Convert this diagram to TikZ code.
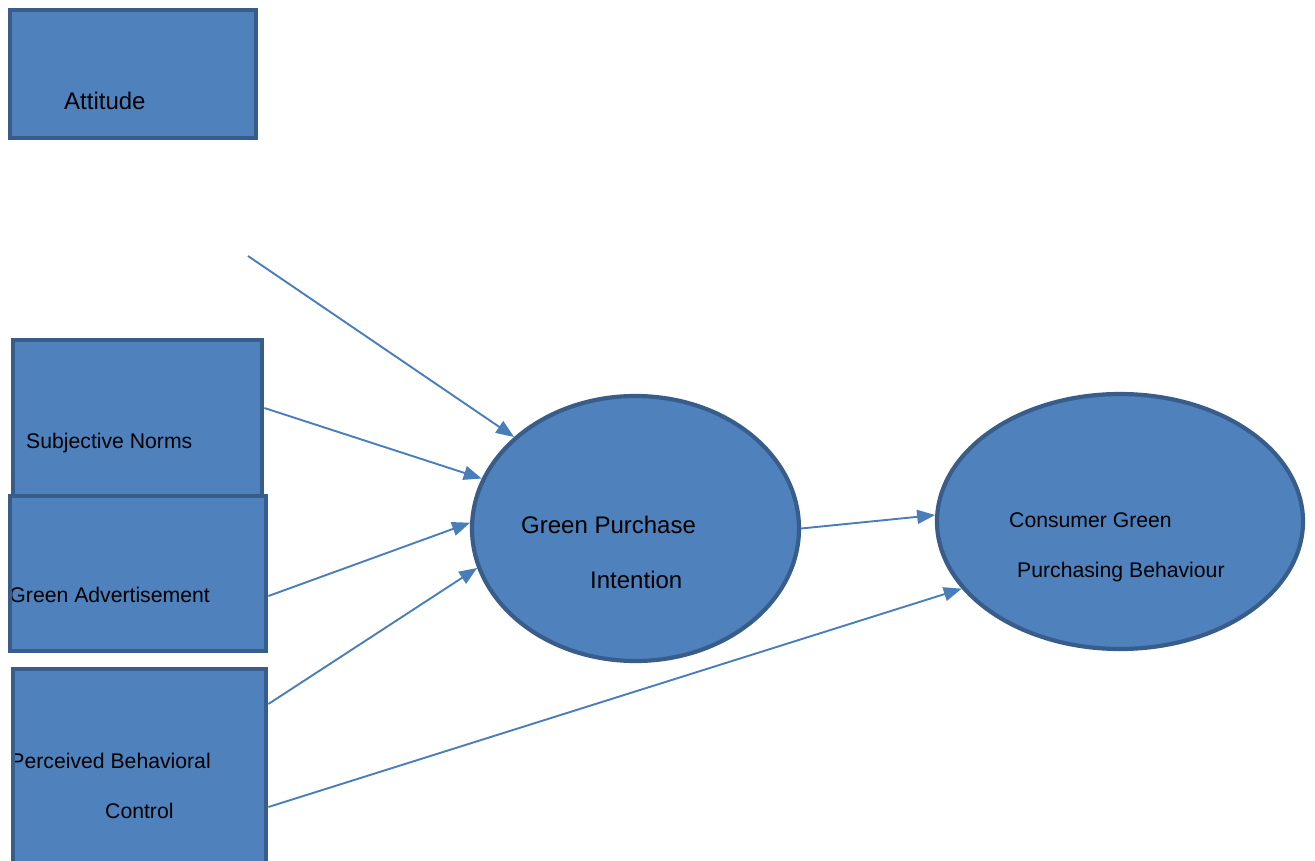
\documentclass[tikz,border=0pt]{standalone}
\usepackage{fontspec}
\setmainfont{Liberation Sans}
\usetikzlibrary{arrows.meta,shapes.geometric}
\definecolor{boxfill}{HTML}{4F81BD}
\definecolor{boxline}{HTML}{385D8A}
\definecolor{arrline}{HTML}{4A7EBB}
\tikzset{
  box/.style={rectangle, draw=boxline, fill=boxfill, line width=4.8pt, inner sep=0pt},
  oval/.style={ellipse, draw=boxline, fill=boxfill, line width=4.2pt, inner sep=0pt},
  arr/.style={draw=arrline, line width=1.9pt, -{Triangle[length=18pt,width=14pt]}},
  big/.style={font=\fontsize{24}{28}\selectfont, inner sep=0pt, text=black},
  small/.style={font=\fontsize{21.2}{25}\selectfont, inner sep=0pt, text=black},
}
\begin{document}
\begin{tikzpicture}[x=1pt,y=-1pt]
\useasboundingbox (0,0) rectangle (1315,861);
% boxes
\node[box, minimum width=246pt, minimum height=128pt] (att) at (133,74) {};
\node[box, minimum width=249pt, minimum height=156pt] (sn) at (137.5,418) {};
\node[box, minimum width=256pt, minimum height=155pt] (ga) at (138,573.5) {};
\node[box, minimum width=253pt, minimum height=211pt] (pbc) at (139.5,774.5) {};
% ellipses
\node[oval, minimum width=327pt, minimum height=265pt] (gpi) at (635.5,528.5) {};
\node[oval, minimum width=366pt, minimum height=255pt] (cgpb) at (1120,521.5) {};
% texts
\node[big, anchor=base west] (tatt) at (64,110) {Attitude};
\node[small, anchor=base west] (tsn) at (26,448) {Subjective Norms};
\begin{scope}
\clip (12.4,490) rectangle (300,660);
\node[small, anchor=base east] (tga) at (210,602) {Green Advertisement};
\end{scope}
\begin{scope}
\clip (15.4,660) rectangle (300,861);
\node[small, anchor=base east] (tpbc) at (211,768) {Perceived Behavioral};
\end{scope}
\node[small, anchor=base west] (tctl) at (105,818) {Control};
\node[big, anchor=base west] (tgpi1) at (521,533) {Green Purchase};
\node[big, anchor=base west] (tgpi2) at (590,588) {Intention};
\node[small, anchor=base west] (tcg1) at (1009,527) {Consumer Green};
\node[small, anchor=base west] (tcg2) at (1017,577) {Purchasing Behaviour};
% connectors
\coordinate (attend) at (248,256);
\draw[arr] (attend) -- (gpi.143.2);
\draw[arr] ([yshift=10pt]sn.east) -- (gpi.162.9);
\draw[arr] ([yshift=-22.5pt]ga.east) -- (gpi.178.7);
\draw[arr] ([yshift=70.5pt]pbc.east) -- (gpi.194.4);
\draw[arr] ([yshift=-32.5pt]pbc.east) -- (cgpb.203.6);
\draw[arr] (gpi.east) -- (cgpb.178.6);
\end{tikzpicture}
\end{document}
